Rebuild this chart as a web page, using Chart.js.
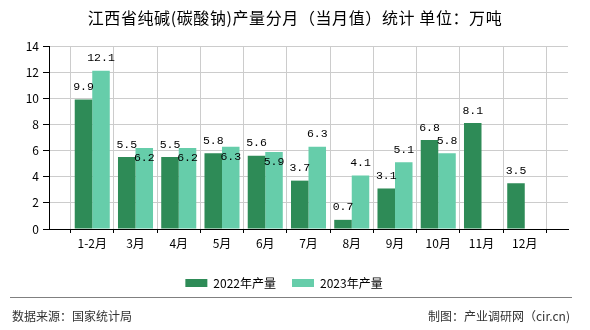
<!DOCTYPE html>
<html>
<head>
<meta charset="utf-8">
<script src="https://cdn.jsdelivr.net/npm/chart.js@4.4.0/dist/chart.umd.min.js"></script>
<style>
html,body{margin:0;padding:0;background:#fff;}
#wrap{position:relative;width:590px;height:330px;overflow:hidden;font-family:"Noto Sans CJK SC",sans-serif;}
#c{position:absolute;left:0;top:0;}
#title{position:absolute;left:0;top:7px;width:590px;text-align:center;font-size:16px;line-height:20px;color:#000;letter-spacing:0.6px;font-weight:400;}
#rule{position:absolute;left:10px;top:297px;width:562px;height:0;border-top:1px solid #808080;}
#src{position:absolute;left:12px;top:308px;font-size:12px;line-height:16px;color:#333;white-space:nowrap;}
#mk{position:absolute;right:20px;top:308px;font-size:12px;line-height:16px;color:#333;white-space:nowrap;}
</style>
</head>
<body>
<div id="wrap">
<canvas id="c" width="590" height="330"></canvas>
<div id="title">江西省纯碱(碳酸钠)产量分月（当月值）统计 单位：万吨</div>
<div id="rule"></div>
<div id="src">数据来源：国家统计局</div>
<div id="mk">制图：产业调研网（cir.cn)</div>
</div>
<script>
// ---- data ----
const months = ['1-2月','3月','4月','5月','6月','7月','8月','9月','10月','11月','12月'];
const output2022 = [9.9, 5.5, 5.5, 5.8, 5.6, 3.7, 0.7, 3.1, 6.8, 8.1, 3.5];
const output2023 = [12.1, 6.2, 6.2, 6.3, 5.9, 6.3, 4.1, 5.1, 5.8, null, null];
const seriesNames = ['2022年产量', '2023年产量'];
const yTicks = [0, 2, 4, 6, 8, 10, 12, 14];

// padded categories (empty slot at each end of the axis)
const labels = [''].concat(months, ['']);
const pad = arr => [null].concat(arr, [null]);

const valueLabels = {
  id: 'valueLabels',
  afterDatasetsDraw(chart) {
    const ctx = chart.ctx;
    ctx.save();
    ctx.font = '11.5px "Liberation Mono", monospace';
    ctx.fillStyle = '#000';
    ctx.textAlign = 'center';
    ctx.textBaseline = 'middle';
    const m0 = chart.getDatasetMeta(0);
    chart.data.datasets.forEach((ds, di) => {
      const meta = chart.getDatasetMeta(di);
      meta.data.forEach((el, i) => {
        const v = ds.data[i];
        if (v == null) return;
        let y = el.y - 12.5;
        if (di === 1) {
          const o = chart.data.datasets[0].data[i];
          if (o != null) {
            const oy = m0.data[i].y - 12.5;
            if (Math.abs(oy - y) < 12) y = el.y + 10;
          }
        }
        ctx.fillText(v.toFixed(1), el.x, y);
      });
    });
    ctx.restore();
  }
};

const PAD_BOTTOM = 31;
const AREA_BOTTOM = 229;

new Chart(document.getElementById('c'), {
  type: 'bar',
  data: {
    labels: labels,
    datasets: [
      { label: seriesNames[0], data: pad(output2022), backgroundColor: '#2E8B57', borderWidth: 0 },
      { label: seriesNames[1], data: pad(output2023), backgroundColor: '#66CDAA', borderWidth: 0 }
    ]
  },
  options: {
    responsive: false,
    animation: false,
    devicePixelRatio: 1,
    layout: { padding: { left: 0, right: 22, top: 46, bottom: PAD_BOTTOM } },
    datasets: { bar: { categoryPercentage: 0.81, barPercentage: 1 } },
    plugins: {
      title: { display: false },
      tooltip: { enabled: false },
      legend: {
        position: 'bottom',
        labels: {
          boxWidth: 22, boxHeight: 8, padding: 16, color: '#000',
          font: { size: 12, family: '"Noto Sans CJK SC", sans-serif' }
        }
      }
    },
    scales: {
      x: {
        offset: false,
        grid: { color: '#cccccc', tickColor: '#000', tickLength: 4, lineWidth: 1 },
        border: { color: '#000', width: 1 },
        ticks: { color: '#000', padding: 3, autoSkip: false, maxRotation: 0,
                 font: { size: 12, family: '"Noto Sans CJK SC", sans-serif' } },
        afterFit(s) {
          const lg = s.chart.legend ? s.chart.legend.height : 44;
          s.height = 330 - AREA_BOTTOM - lg - PAD_BOTTOM;
        }
      },
      y: {
        min: 0, max: 14,
        afterBuildTicks(s) { s.ticks = yTicks.map(v => ({ value: v })); },
        grid: { color: '#cccccc', tickColor: '#000', tickLength: 6, lineWidth: 1 },
        border: { color: '#000', width: 1 },
        ticks: { color: '#000', padding: 4,
                 font: { size: 12, family: '"Noto Sans CJK SC", sans-serif' } },
        afterFit(s) { s.width = 49; }
      }
    }
  },
  plugins: [valueLabels]
});
</script>
</body>
</html>
